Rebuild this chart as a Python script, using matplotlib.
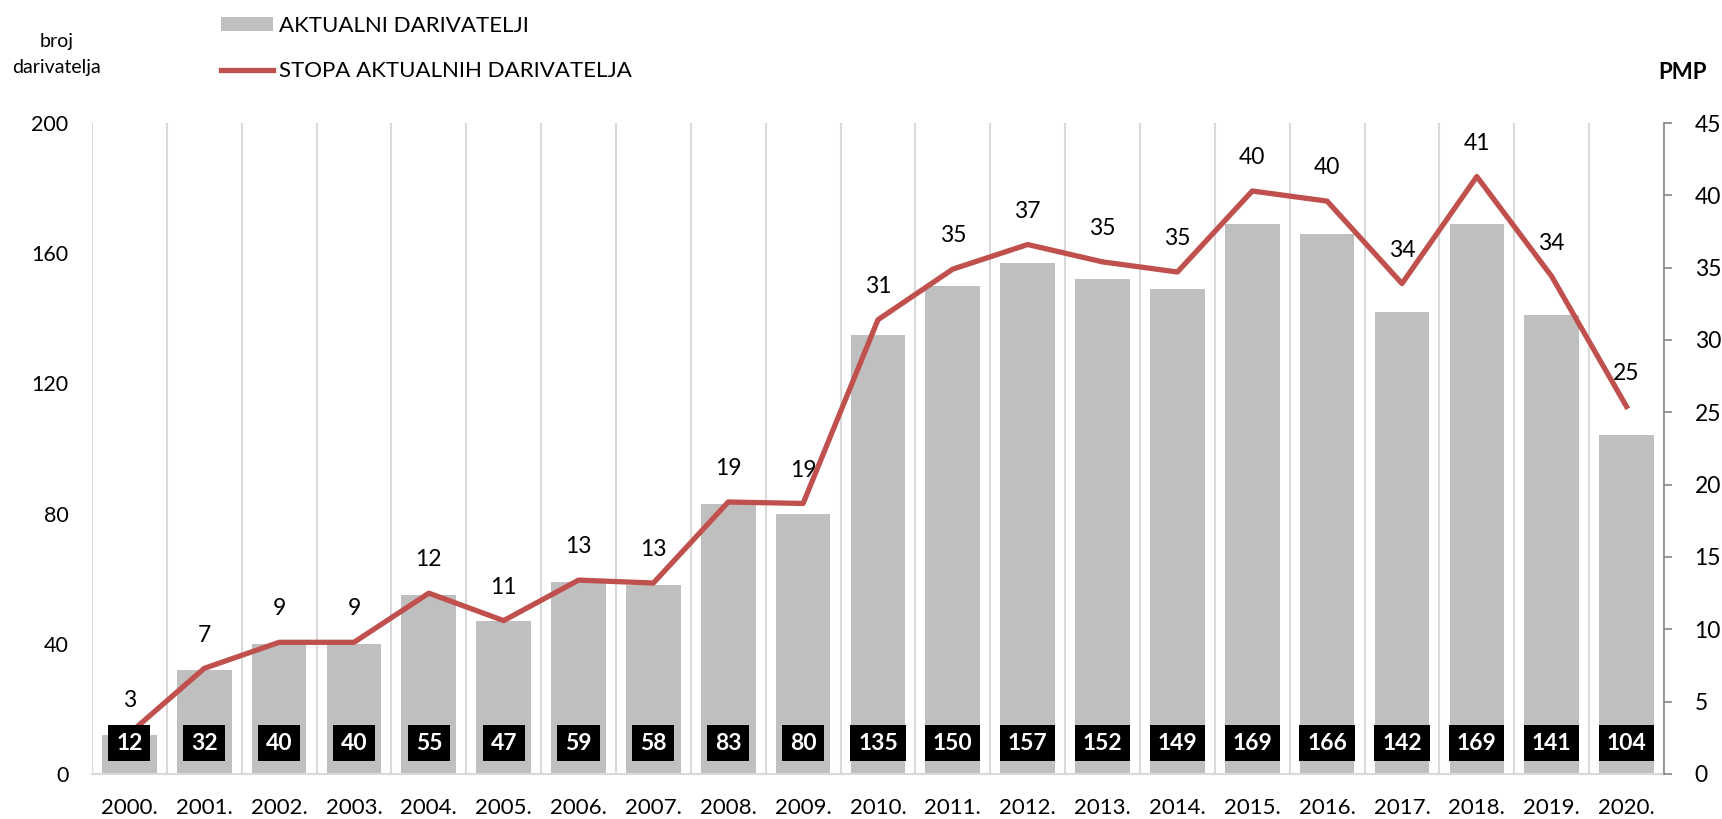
import numpy as np
import matplotlib.pyplot as plt
from matplotlib.patches import Patch
from matplotlib.lines import Line2D

plt.rcParams['font.family'] = ['Lato', 'DejaVu Sans']

years = ['2000.', '2001.', '2002.', '2003.', '2004.', '2005.', '2006.', '2007.',
         '2008.', '2009.', '2010.', '2011.', '2012.', '2013.', '2014.', '2015.',
         '2016.', '2017.', '2018.', '2019.', '2020.']
donors = [12, 32, 40, 40, 55, 47, 59, 58, 83, 80, 135, 150, 157, 152, 149,
          169, 166, 142, 169, 141, 104]
rate = [2.8, 7.3, 9.1, 9.1, 12.5, 10.6, 13.4, 13.2, 18.8, 18.7, 31.4, 34.9,
        36.6, 35.4, 34.7, 40.3, 39.6, 33.9, 41.3, 34.4, 25.4]
rate_labels = [3, 7, 9, 9, 12, 11, 13, 13, 19, 19, 31, 35, 37, 35, 35, 40, 40,
               34, 41, 34, 25]

bar_color = '#BFBFBF'
line_color = '#C0504D'

fig = plt.figure(figsize=(17.22, 8.19), dpi=100)
ax = fig.add_axes([0.0534, 0.055, 0.9129, 0.7948])
x = np.arange(len(years))

ax.bar(x, donors, width=0.73, color=bar_color, zorder=2)
ax.set_xlim(-0.5, len(years) - 0.5)
ax.set_ylim(0, 200)
ax.set_yticks([0, 40, 80, 120, 160, 200])
ax.set_xticks(x)
ax.set_xticklabels(years, fontsize=16)
ax.tick_params(axis='x', length=0, pad=17)
ax.tick_params(axis='y', length=0, pad=17, labelsize=15.5)

# vertical separators between categories
ax.set_xticks(np.arange(-0.5, len(years)), minor=True)
ax.tick_params(axis='x', which='minor', length=0)
ax.grid(axis='x', which='minor', color='#D9D9D9', linewidth=1.5, zorder=0)

for s in ['top', 'left', 'right']:
    ax.spines[s].set_visible(False)
ax.spines['bottom'].set_color('#D9D9D9')
ax.spines['bottom'].set_linewidth(1.5)

ax2 = ax.twinx()
ax2.set_ylim(0, 45)
ax2.set_yticks(np.arange(0, 46, 5))
ax2.plot(x, rate, color=line_color, linewidth=3.8, zorder=5)
for s in ['top', 'left', 'bottom']:
    ax2.spines[s].set_visible(False)
ax2.spines['right'].set_color('#868686')
ax2.spines['right'].set_linewidth(1.2)
ax2.tick_params(axis='y', direction='out', length=6, width=1.2,
                color='#868686', pad=16, labelsize=16.5)

# value boxes at the bottom, above the line
for xi, v in zip(x, donors):
    ax2.text(xi, 9.5, str(v), transform=ax.transData, ha='center',
             va='center', color='white', fontsize=16.5, fontweight='bold',
             zorder=7,
             bbox=dict(boxstyle='square,pad=0.34', facecolor='black',
                       edgecolor='none'))

for xi, v, lab in zip(x, rate, rate_labels):
    ax2.annotate(str(lab), (xi, v), xytext=(0, 24), textcoords='offset points',
                 ha='center', va='center', fontsize=16.5)

fig.text(0.033, 0.949, 'broj', ha='center', va='center', fontsize=14)
fig.text(0.033, 0.918, 'darivatelja', ha='center', va='center', fontsize=14)
fig.text(0.977, 0.912, 'PMP', ha='center', va='center', fontsize=16,
         fontweight='bold')

handles = [Patch(facecolor=bar_color, edgecolor='none'),
           Line2D([0], [0], color=line_color, linewidth=3.8)]
fig.legend(handles, ['AKTUALNI DARIVATELJI', 'STOPA AKTUALNIH DARIVATELJA'],
           loc='upper left', bbox_to_anchor=(0.117, 1.005), frameon=False,
           fontsize=16, handlelength=2.34, handleheight=0.63,
           handletextpad=0.27, labelspacing=1.15)

fig.savefig('out.png', dpi=100)
